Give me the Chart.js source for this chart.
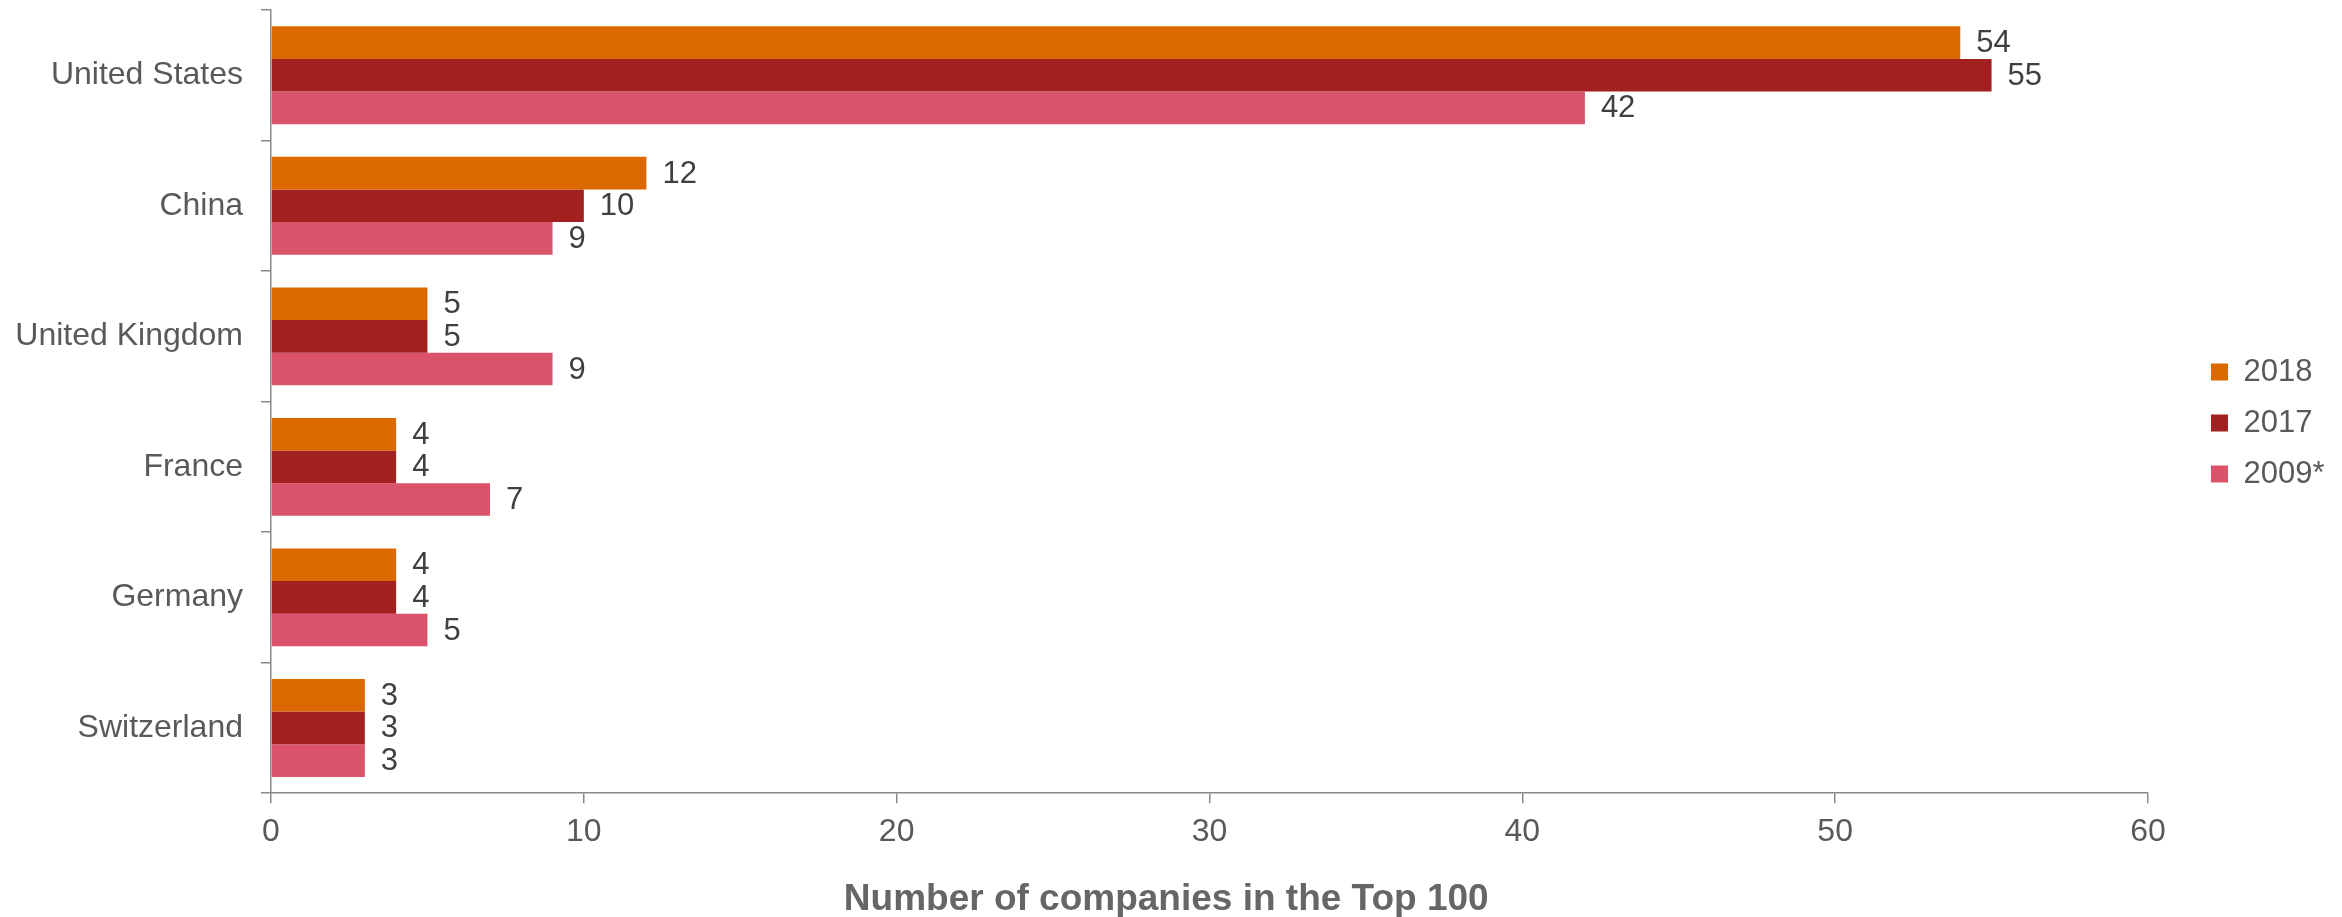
<!DOCTYPE html>
<html>
<head>
<meta charset="utf-8">
<script src="https://cdn.jsdelivr.net/npm/chart.js@4.4.1/dist/chart.umd.min.js"></script>
<style>
  html, body { margin: 0; padding: 0; background: #fff; }
  #wrap { width: 2342px; height: 917px; }
</style>
</head>
<body>
<div id="wrap"><canvas id="myChart" width="2342" height="917"></canvas></div>
<script>
// data
var countries = ["United States", "China", "United Kingdom", "France", "Germany", "Switzerland"];
var seriesNames = ["2018", "2017", "2009*"];
var values2018 = [54, 12, 5, 4, 4, 3];
var values2017 = [55, 10, 5, 4, 4, 3];
var values2009 = [42, 9, 9, 7, 5, 3];
var xTicks = [0, 10, 20, 30, 40, 50, 60];
var axisTitle = "Number of companies in the Top 100";

var colors = ["#DC6900", "#A32020", "#DB536A"];
var axisColor = "#8a8a8a";
var textColor = "#595959";

Chart.defaults.font.family = "'Liberation Sans', Arial, sans-serif";

// value labels at the end of each bar
var barLabels = {
  id: "barLabels",
  afterDatasetsDraw: function(chart) {
    var ctx = chart.ctx;
    ctx.save();
    ctx.font = "31px 'Liberation Sans', Arial, sans-serif";
    ctx.fillStyle = "#404040";
    ctx.textAlign = "left";
    ctx.textBaseline = "middle";
    chart.data.datasets.forEach(function(ds, i) {
      var meta = chart.getDatasetMeta(i);
      meta.data.forEach(function(bar, j) {
        ctx.fillText(ds.data[j], bar.x + 16, bar.y + 1);
      });
    });
    ctx.restore();
  }
};

// nudge legend and title to where the original has them
var boxShift = {
  id: "boxShift",
  afterLayout: function(chart) {
    var lg = chart.legend;
    lg.left += 43; lg.right += 43;
    lg.top += 21.5; lg.bottom += 21.5;
    var tb = chart.titleBlock;
    tb.left += 12; tb.right += 12;
  }
};

var ctx = document.getElementById("myChart");

var data = {
  labels: countries,
  datasets: [
    { label: seriesNames[0], data: values2018, backgroundColor: colors[0] },
    { label: seriesNames[1], data: values2017, backgroundColor: colors[1] },
    { label: seriesNames[2], data: values2009, backgroundColor: colors[2] }
  ]
};

var options = {
  indexAxis: "y",
  responsive: false,
  animation: false,
  devicePixelRatio: 1,
  datasets: {
    bar: { categoryPercentage: 0.75, barPercentage: 1.0, borderWidth: 0 }
  },
  layout: {
    padding: { left: 17, top: 10, right: 50.5, bottom: 0 }
  },
  scales: {
    x: {
      min: xTicks[0],
      max: xTicks[xTicks.length - 1],
      afterBuildTicks: function(scale) {
        scale.ticks = xTicks.map(function(v) { return { value: v }; });
      },
      afterFit: function(scale) {
        scale.height = 58.4;
      },
      grid: { display: true, drawOnChartArea: false, drawTicks: true, tickLength: 10, color: axisColor, lineWidth: 1.5 },
      border: { display: true, color: axisColor, width: 1.5 },
      ticks: { color: textColor, font: { size: 32 }, padding: 10, maxRotation: 0 }
    },
    y: {
      afterFit: function(scale) {
        scale.width = 254;
        scale.paddingTop = 0;
        scale.paddingBottom = 0;
      },
      grid: { display: true, offset: true, drawOnChartArea: false, drawTicks: true, tickLength: 10, color: axisColor, lineWidth: 1.5 },
      border: { display: true, color: axisColor, width: 1.5 },
      ticks: { color: textColor, font: { size: 32 }, padding: 18 }
    }
  },
  plugins: {
    legend: {
      display: true,
      position: "right",
      fullSize: false,
      labels: {
        boxWidth: 17,
        boxHeight: 17,
        padding: 20,
        color: textColor,
        font: { size: 31 }
      }
    },
    title: {
      display: true,
      position: "bottom",
      text: axisTitle,
      color: "#666666",
      font: { size: 37, weight: "bold" },
      padding: { top: 26, bottom: -5 }
    },
    tooltip: { enabled: false }
  }
};

var chart = new Chart(ctx, {
  type: "bar",
  data: data,
  options: options,
  plugins: [barLabels, boxShift]
});
</script>
</body>
</html>
